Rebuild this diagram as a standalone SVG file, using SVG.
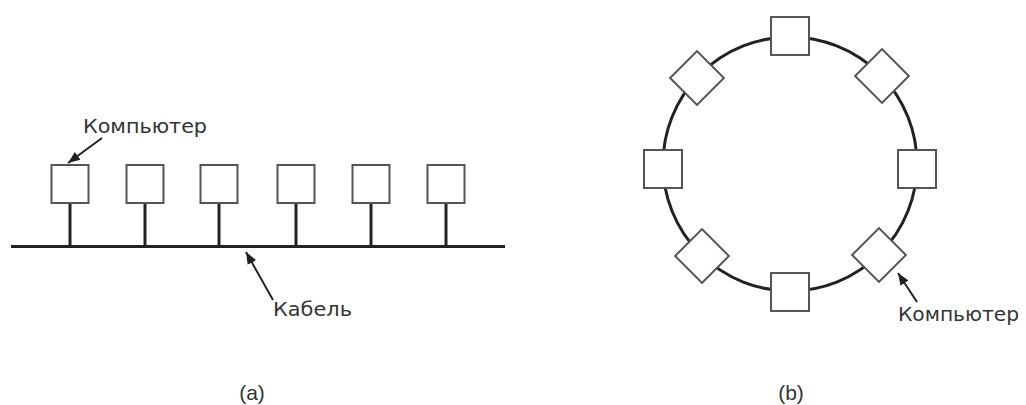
<svg xmlns="http://www.w3.org/2000/svg" width="1026" height="405" viewBox="0 0 1026 405">
<style>
.box{fill:#fff;stroke:#555;stroke-width:2}
.wire{stroke:#222;stroke-width:3;fill:none}
.lead{stroke:#222;stroke-width:2;fill:none}
.lbl{font-family:"DejaVu Sans",sans-serif;font-size:20px;fill:#333}
.cap{font-family:"Liberation Sans",sans-serif;font-size:21px;fill:#333;text-anchor:middle}
</style>
<defs>
<marker id="ah" viewBox="0 0 10 10" refX="10" refY="5" markerWidth="6" markerHeight="6" orient="auto" markerUnits="strokeWidth">
<path d="M0,1 L10,5 L0,9 z" fill="#222"/>
</marker>
</defs>
<rect width="1026" height="405" fill="#fff"/>
<g id="connectors">
<line class="wire" x1="11" y1="246.5" x2="505" y2="246.5"/>
<line class="wire" x1="70" y1="203" x2="70" y2="246"/>
<line class="wire" x1="145" y1="203" x2="145" y2="246"/>
<line class="wire" x1="219" y1="203" x2="219" y2="246"/>
<line class="wire" x1="296" y1="203" x2="296" y2="246"/>
<line class="wire" x1="371" y1="203" x2="371" y2="246"/>
<line class="wire" x1="446" y1="203" x2="446" y2="246"/>
<ellipse class="wire" cx="790" cy="164" rx="127" ry="127"/>
<line class="lead" x1="102" y1="138" x2="68" y2="163" marker-end="url(#ah)"/>
<line class="lead" x1="273" y1="300" x2="246" y2="252" marker-end="url(#ah)"/>
<line class="lead" x1="917" y1="302" x2="898" y2="273" marker-end="url(#ah)"/>
</g>
<g id="bus-computers">
<rect id="a1" class="box" x="51.5" y="165" width="37" height="38"/>
<rect id="a2" class="box" x="126.5" y="165" width="37" height="38"/>
<rect id="a3" class="box" x="200.5" y="165" width="37" height="38"/>
<rect id="a4" class="box" x="277.5" y="165" width="37" height="38"/>
<rect id="a5" class="box" x="352.5" y="165" width="37" height="38"/>
<rect id="a6" class="box" x="427.5" y="165" width="37" height="38"/>
</g>
<g id="ring-computers">
<rect id="b1" class="box" x="771" y="17" width="38" height="38"/>
<rect id="b2" class="box" x="771" y="273" width="38" height="38"/>
<rect id="b3" class="box" x="644" y="150" width="38" height="38"/>
<rect id="b4" class="box" x="898" y="150" width="38" height="38"/>
<rect id="b5" class="box" x="-19" y="-19" width="38" height="38" transform="translate(697,78) rotate(45)"/>
<rect id="b6" class="box" x="-19" y="-19" width="38" height="38" transform="translate(882,76) rotate(45)"/>
<rect id="b7" class="box" x="-19" y="-19" width="38" height="38" transform="translate(702,256) rotate(45)"/>
<rect id="b8" class="box" x="-19" y="-19" width="38" height="38" transform="translate(879,255) rotate(45)"/>
</g>
<g id="labels">
<text class="lbl" x="83" y="133" textLength="124" lengthAdjust="spacingAndGlyphs">Компьютер</text>
<text class="lbl" x="273" y="316" textLength="79" lengthAdjust="spacingAndGlyphs">Кабель</text>
<text class="lbl" x="898" y="321" textLength="121" lengthAdjust="spacingAndGlyphs">Компьютер</text>
<text class="cap" x="252" y="400">(a)</text>
<text class="cap" x="791" y="400">(b)</text>
</g>
</svg>
